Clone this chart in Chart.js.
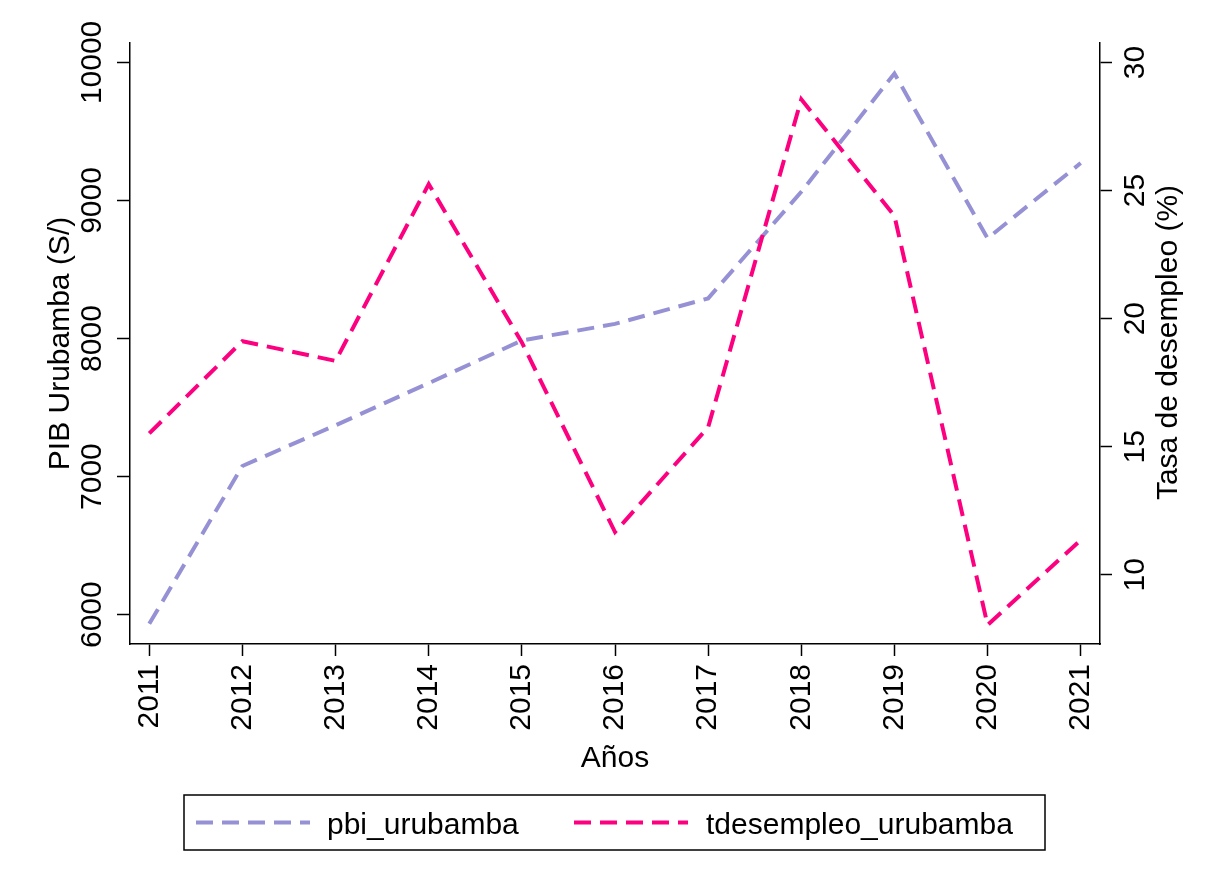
<!DOCTYPE html>
<html>
<head>
    <title>PIB y desempleo Urubamba</title>
    <style>
        body { margin: 0; background: #fff; }
        canvas { display: block; }
    </style>
    <script src="https://cdn.jsdelivr.net/npm/chart.js"></script>
</head>
<body>
    <canvas id="graphCanvas" width="1206" height="886"></canvas>

    <script>
        // values
        const years = [2011, 2012, 2013, 2014, 2015, 2016, 2017, 2018, 2019, 2020, 2021];
        const pbiUrubamba = [5934, 7077, 7372, 7677, 7986, 8106, 8291, 9063, 9920, 8726, 9271];
        const tdesempleoUrubamba = [15.52, 19.12, 18.35, 25.25, 19.07, 11.67, 15.76, 28.56, 24.01, 8.04, 11.36];
        const pibTicks = [6000, 7000, 8000, 9000, 10000];
        const tasaTicks = [10, 15, 20, 25, 30];

        const FONT = { family: "'Liberation Sans', Arial, Helvetica, sans-serif", size: 30 };
        Chart.defaults.color = '#000';

        // Stata-like legend box under the plot
        const boxLegend = {
            id: 'boxLegend',
            afterDraw(chart) {
                const ctx = chart.ctx;
                ctx.save();
                ctx.lineWidth = 1.5;
                ctx.strokeStyle = '#000';
                ctx.strokeRect(184, 795, 861, 55);
                const spots = [{ x: 196, tx: 327 }, { x: 574, tx: 706 }];
                chart.data.datasets.forEach((ds, i) => {
                    const s = spots[i];
                    ctx.beginPath();
                    ctx.setLineDash(ds.borderDash);
                    ctx.lineWidth = ds.borderWidth;
                    ctx.strokeStyle = ds.borderColor;
                    ctx.moveTo(s.x, 822.5);
                    ctx.lineTo(s.x + 114, 822.5);
                    ctx.stroke();
                    ctx.setLineDash([]);
                    ctx.fillStyle = '#000';
                    ctx.font = FONT.size + 'px ' + FONT.family;
                    ctx.textBaseline = 'alphabetic';
                    ctx.textAlign = 'left';
                    ctx.fillText(ds.label, s.tx, 834);
                });
                ctx.restore();
            }
        };

        // right axis title reads bottom-to-top in the original
        const rightTitle = {
            id: 'rightTitle',
            afterDraw(chart) {
                const ctx = chart.ctx;
                const area = chart.chartArea;
                ctx.save();
                ctx.translate(1177, (area.top + area.bottom) / 2 - 1);
                ctx.rotate(-Math.PI / 2);
                ctx.font = FONT.size + 'px ' + FONT.family;
                ctx.fillStyle = '#000';
                ctx.textAlign = 'center';
                ctx.textBaseline = 'alphabetic';
                ctx.fillText('Tasa de desempleo (%)', 0, 0);
                ctx.restore();
            }
        };

        const axisGrid = (len) => ({
            display: true,
            drawOnChartArea: false,
            drawTicks: true,
            tickLength: len,
            tickWidth: 1.5,
            tickColor: '#000'
        });

        new Chart(document.getElementById('graphCanvas'), {
            type: 'line',
            data: {
                datasets: [
                    {
                        label: 'pbi_urubamba',
                        data: years.map((y, i) => ({ x: y, y: pbiUrubamba[i] })),
                        yAxisID: 'y',
                        borderColor: '#9691d4',
                        borderWidth: 4,
                        borderDash: [17, 9],
                        pointRadius: 0,
                        tension: 0,
                        fill: false,
                        order: 1
                    },
                    {
                        label: 'tdesempleo_urubamba',
                        data: years.map((y, i) => ({ x: y, y: tdesempleoUrubamba[i] })),
                        yAxisID: 'y1',
                        borderColor: '#fc0080',
                        borderWidth: 4,
                        borderDash: [17, 9],
                        pointRadius: 0,
                        tension: 0,
                        fill: false,
                        order: 0
                    }
                ]
            },
            options: {
                responsive: false,
                animation: false,
                devicePixelRatio: 1,
                layout: { padding: { top: 43, left: 0, right: 0, bottom: 109 } },
                plugins: {
                    legend: { display: false },
                    tooltip: { enabled: false }
                },
                scales: {
                    x: {
                        type: 'linear',
                        position: 'bottom',
                        min: 2010.793,
                        max: 2021.207,
                        afterBuildTicks: (s) => { s.ticks = years.map(v => ({ value: v })); },
                        afterFit: (s) => { s.height = 133; },
                        ticks: {
                            autoSkip: false,
                            minRotation: 90,
                            maxRotation: 90,
                            padding: 8,
                            font: FONT,
                            callback: (v) => String(v)
                        },
                        grid: axisGrid(12),
                        border: { display: true, color: '#000', width: 1.5 },
                        title: { display: true, text: 'Años', font: FONT, padding: 0 }
                    },
                    y: {
                        type: 'linear',
                        position: 'left',
                        min: 5787.7,
                        max: 10140.6,
                        afterBuildTicks: (s) => { s.ticks = pibTicks.map(v => ({ value: v })); },
                        afterFit: (s) => { s.width = 130; },
                        ticks: {
                            minRotation: 90,
                            maxRotation: 90,
                            crossAlign: 'center',
                            padding: -17,
                            font: FONT,
                            callback: (v) => String(v)
                        },
                        grid: axisGrid(13),
                        border: { display: true, color: '#000', width: 1.5 },
                        title: { display: true, text: 'PIB Urubamba (S/)', font: FONT, padding: { top: 43, bottom: 0 } }
                    },
                    y1: {
                        type: 'linear',
                        position: 'right',
                        min: 7.30,
                        max: 30.76,
                        afterBuildTicks: (s) => { s.ticks = tasaTicks.map(v => ({ value: v })); },
                        afterFit: (s) => { s.width = 106; },
                        ticks: {
                            minRotation: 90,
                            maxRotation: 90,
                            crossAlign: 'center',
                            padding: 7,
                            font: FONT,
                            callback: (v) => String(v)
                        },
                        grid: axisGrid(12),
                        border: { display: true, color: '#000', width: 1.5 },
                        title: { display: false, text: 'Tasa de desempleo (%)' }
                    }
                }
            },
            plugins: [boxLegend, rightTitle]
        });
    </script>
</body>
</html>
